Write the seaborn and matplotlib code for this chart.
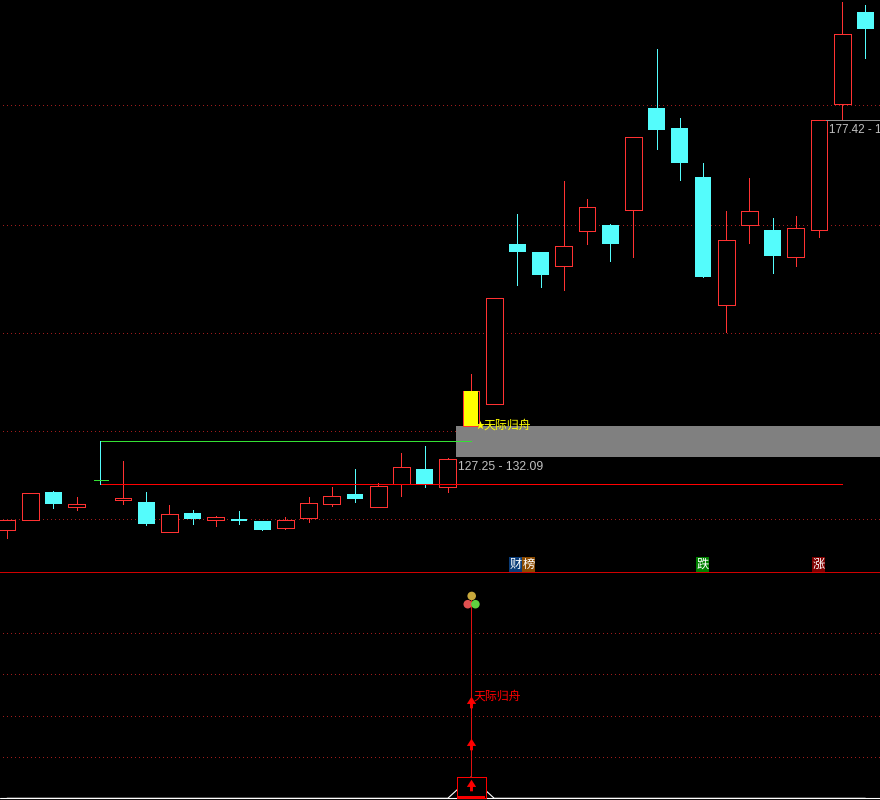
import numpy as np
import pandas as pd
import seaborn as sns
import matplotlib.pyplot as plt
from matplotlib.path import Path


# candles
open_ = [122.07, 123.14, 126.32, 124.64, 127.77, 125.4, 125.18, 121.83, 123.93, 123.17, 123.25, 123.02, 122.27,
         123.39, 124.98, 126.09, 124.64, 127.28, 129.0, 126.94, 134.21, 136.89, 158.42, 157.27, 155.32, 160.36,
         161.2, 163.46, 179.37, 176.12, 168.42, 149.88, 161.24, 160.46, 156.6, 160.51, 180.07, 195.8]
close = [123.14, 126.21, 124.95, 124.91, 127.77, 125.63, 122.69, 123.81, 123.25, 123.44, 123.02, 122.02, 123.1,
         125.03, 125.83, 125.52, 126.98, 129.21, 127.25, 130.15, 138.49, 150.76, 157.27, 154.0, 158.09, 163.82,
         158.42, 174.63, 175.8, 170.58, 153.72, 159.0, 163.22, 156.7, 160.71, 177.37, 191.85, 192.78]
high = [123.14, 126.21, 126.44, 125.75, 127.77, 129.95, 126.32, 124.83, 124.26, 123.59, 124.15, 123.02, 123.47,
        125.75, 126.9, 129.0, 127.33, 130.87, 131.74, 130.27, 140.69, 150.76, 162.82, 157.27, 167.8, 165.07,
        161.34, 174.63, 189.3, 177.74, 170.58, 163.27, 168.26, 162.23, 162.53, 177.37, 197.6, 197.05]
low = [121.18, 123.14, 124.49, 124.3, 127.77, 124.95, 122.57, 121.83, 122.69, 122.46, 122.69, 122.02, 122.13,
       122.94, 124.75, 125.21, 124.64, 125.9, 126.94, 126.36, 134.21, 136.89, 152.6, 152.37, 151.95, 158.42,
       155.98, 156.55, 172.78, 167.96, 153.72, 146.19, 158.57, 154.28, 155.27, 159.44, 177.58, 187.75]

grid_prices = [179.86, 161.15, 146.06, 133.52, 123.21]
band_prices = [130.43, 134.17]
star_price = 134.29
label_prices = [129.24, 175.8]

range_low = 127.25
range_high = 132.3
range2_low = 177.42
range_labels = ['127.25 - 132.09', '177.42 - 1']

# lower panel
signal = [0]*38
signal[20] = 10.3
stem_top = 96
arrow_vals = [46.4, 26.3, 6.5]
osc_grid = [20, 40, 60, 80]
ball_x = [20.03, 19.86, 20.19]
ball_y = [98, 94, 94]
ball_colors = ['#c8a83c', '#e05050', '#60d040']
signal_name = '天际归舟'

RED = '#ff3232'
CYAN = '#54fcfc'

sns.set_theme(style='dark', rc={'axes.facecolor': 'black', 'figure.facecolor': 'black'})
plt.rcParams['font.family'] = ['Noto Sans CJK SC', 'DejaVu Sans']

fig = plt.figure(figsize=(8.8, 8), dpi=100)
ax = fig.add_axes([0, 228/800, 1, 572/800])
ax2 = fig.add_axes([0, 0, 1, 228/800])
xlim = (-7/23.2, 873/23.2)

df = pd.DataFrame({'i': np.arange(38), 'open': open_, 'close': close, 'high': high, 'low': low})
df['up'] = df['close'] >= df['open']
up = df[df['up'] & (df['i'] != 4)]
down = df[~df['up'] | (df['i'] == 4)]

ax.set_yscale('log')
ax.hlines(grid_prices, (3-7)/23.2, xlim[1], colors='#a01c1c', linewidth=0.72, linestyles=(0, (1, 3)),
          antialiased=False, zorder=1)
ax.axhspan(band_prices[0], band_prices[1], xmin=456/880, xmax=1, color='#808080', lw=0, zorder=2)

ax.vlines(up['i'], up['low'], up['high'], colors=RED, linewidth=0.72, antialiased=False, zorder=3)
ax.vlines(down['i'], down['low'], down['high'], colors=CYAN, linewidth=0.72, antialiased=False, zorder=3)
ax.bar(up['i'], up['close']-up['open'], bottom=up['open'], width=0.72, facecolor='black', edgecolor=RED,
       linewidth=0.72, antialiased=False, zorder=4)
ax.bar(down['i'], down['open']-down['close'], bottom=down['close'], width=0.73, color=CYAN, linewidth=0,
       antialiased=False, zorder=4)
ax.bar([20], [close[20]-open_[20]], bottom=[open_[20]], width=0.58, color='#ffff00', linewidth=0, zorder=5)

# range brackets
ax.hlines(range_low, 4, 36, colors='#ff0000', linewidth=0.72, antialiased=False, zorder=6)
ax.hlines(range_high, 4, 20, colors='#34e034', linewidth=0.72, antialiased=False, zorder=6)
ax.vlines(4, range_low, range_high, colors=CYAN, linewidth=0.72, antialiased=False, zorder=6)
ax.hlines(close[4], 3.75, 4.35, colors='#34e034', linewidth=0.72, antialiased=False, zorder=6)
ax.hlines(range2_low, 35.3, xlim[1], colors='#909090', linewidth=0.72, antialiased=False, zorder=6)
sns.scatterplot(x=[20.4], y=[star_price], marker='*', s=45, color='#ffff00', linewidth=0, ax=ax, zorder=7)

ax.text(20.55, star_price, signal_name, color='#ffff00', fontsize=8.6, va='center', ha='left', zorder=8)
ax.text(19.43, label_prices[0], range_labels[0], color='#c0c0c0', fontsize=8.7, family='Liberation Sans',
        va='center', ha='left', zorder=8)
ax.text(35.43, label_prices[1], range_labels[1], color='#c0c0c0', fontsize=8.4, family='Liberation Sans',
        va='center', ha='left', zorder=8)

ax.set_xlim(xlim)
ax.set_ylim(117.43, 197.95)
ax.axis('off')

badges = [('财', 516, '#0a3c78'), ('榜', 528.5, '#8a4a00'), ('跌', 702.5, '#008000'), ('涨', 818.5, '#800000')]
for t, xc, c in badges:
    fig.text(xc/880, 1-564.5/800, t, color='white', fontsize=8.8, ha='center', va='center',
             bbox=dict(boxstyle='square,pad=0.06', facecolor=c, edgecolor='none'), zorder=9)

# lower panel
ax2.hlines(osc_grid, (3-7)/23.2, xlim[1], colors='#a01c1c', linewidth=0.72, linestyles=(0, (1, 3)),
           antialiased=False, zorder=1)
ax2.axhline(0, color='white', linewidth=0.8, zorder=2)
sns.lineplot(x=np.arange(38), y=signal, color='white', linewidth=0.8, ax=ax2, zorder=2)
ax2.bar([20], [signal[20]], width=1.25, facecolor='black', edgecolor='#ff0000', linewidth=0.72,
        antialiased=False, zorder=3)
ax2.vlines(20, signal[20], stem_top, colors='#e01010', linewidth=0.72, antialiased=False, zorder=3)
ax2.hlines(0.4, 19.4, 20.6, colors='#ff0000', linewidth=1.4, zorder=4)
arrow = Path([(-0.8, -0.25), (0, 1), (0.8, -0.25), (0.25, -0.25), (0.25, -1), (-0.25, -1), (-0.25, -0.25), (-0.8, -0.25)],
             closed=True)
sns.scatterplot(x=[20]*3, y=arrow_vals, marker=arrow, s=70, color='#ff0000', linewidth=0, ax=ax2, zorder=5)
sns.scatterplot(x=ball_x, y=ball_y, hue=ball_colors, palette=dict(zip(ball_colors, ball_colors)), s=38,
                linewidth=0, legend=False, ax=ax2, zorder=6)
ax2.text(20.1, 49.6, signal_name, color='#ff0000', fontsize=8.6, va='center', ha='left', zorder=7)
ax2.set_xlim(xlim)
ax2.set_ylim(-0.82, 109.6)
ax2.axis('off')
fig.add_artist(plt.Line2D([0, 1], [1-572/800]*2, color='#d00000', linewidth=0.72, antialiased=False, zorder=8))

fig.savefig('out.png', dpi=100)
